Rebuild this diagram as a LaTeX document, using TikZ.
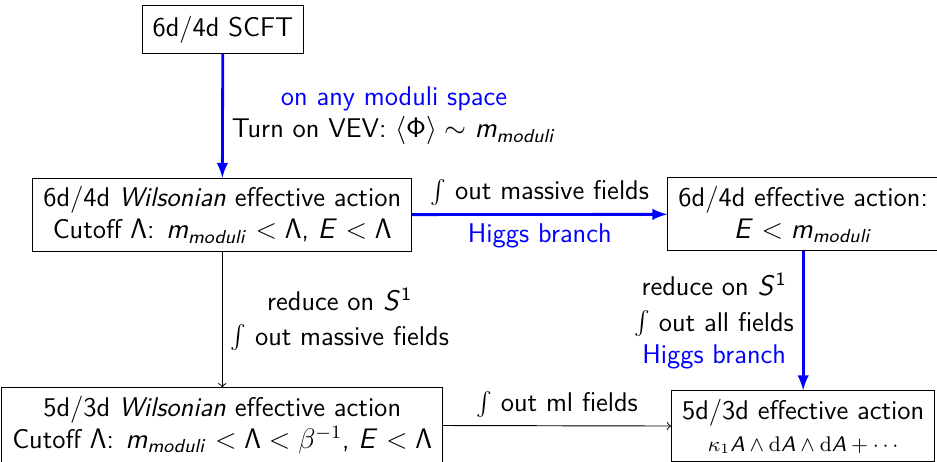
\documentclass[tikz,border=0pt]{standalone}
\DeclareMathAlphabet{\mathsfit}{OT1}{cmss}{m}{sl}
\DeclareSymbolFont{sfup}{OT1}{cmss}{m}{n}
\DeclareMathSymbol{\sfLambda}{\mathalpha}{sfup}{"03}
\DeclareMathSymbol{\sfPhi}{\mathalpha}{sfup}{"08}
\newcommand{\mmod}{\mathsfit{m}_{\mathsfit{moduli}}}
\tikzset{
    stage/.style={draw, align=center, inner xsep=4.5pt, inner ysep=3.5pt},
    higgsflow/.style={draw=blue, very thick, -latex},
    reduceflow/.style={->},
}

\begin{document}
\begin{tikzpicture}[font=\sffamily\fontsize{11.5}{13.6}\selectfont]
    \useasboundingbox (0, 0) rectangle (14, 6.90);
    % boxes
    \node [stage, inner ysep=4.5pt] (scft) at (3.33, 6.46) {6d/4d SCFT};
    \node [stage] (wil6) at (3.32, 3.69) {6d/4d \textsl{Wilsonian} effective action\\ Cutoff $\sfLambda$: $\mmod < \sfLambda$, $\mathsfit{E} < \sfLambda$};
    \node [stage] (eff6) at (12.0, 3.70) {6d/4d effective action:\\ $\mathsfit{E} < \mmod$};
    \node [stage] (wil5) at (3.32, 0.55) {5d/3d \textsl{Wilsonian} effective action\\ Cutoff $\sfLambda$: $\mmod < \sfLambda < \beta^{-1}$, $\mathsfit{E} < \sfLambda$};
    \node [stage] (eff5) at (12.0, 0.53) {5d/3d effective action\\ \fontsize{9.2}{11}\selectfont $\kappa_1\mathsfit{A}\wedge\mathrm{d}\mathsfit{A}\wedge\mathrm{d}\mathsfit{A}+\cdots$};
    % arrows
    \draw [higgsflow] (scft) -- node [right, align=center] {\textcolor{blue}{on any moduli space}\\ Turn on VEV: $\langle\sfPhi\rangle \sim \mmod$} (wil6);
    \draw [higgsflow] (wil6) -- node [above] {$\int$ out massive fields} node [below, text=blue] {Higgs branch} (eff6);
    \draw [reduceflow] (wil6) -- node [right, align=center] {reduce on $\mathsfit{S}^{\mathsf{1}}$\\[1pt] $\int$ out massive fields} (wil5);
    \draw [higgsflow] (eff6) -- node [left, align=center] {reduce on $\mathsfit{S}^{\mathsf{1}}$\\[1.5pt] $\int$ out all fields\\ \textcolor{blue}{Higgs branch}} (eff5);
    \draw [reduceflow] (wil5) -- node [above] {$\int$ out ml fields} (eff5);
\end{tikzpicture}
\end{document}
